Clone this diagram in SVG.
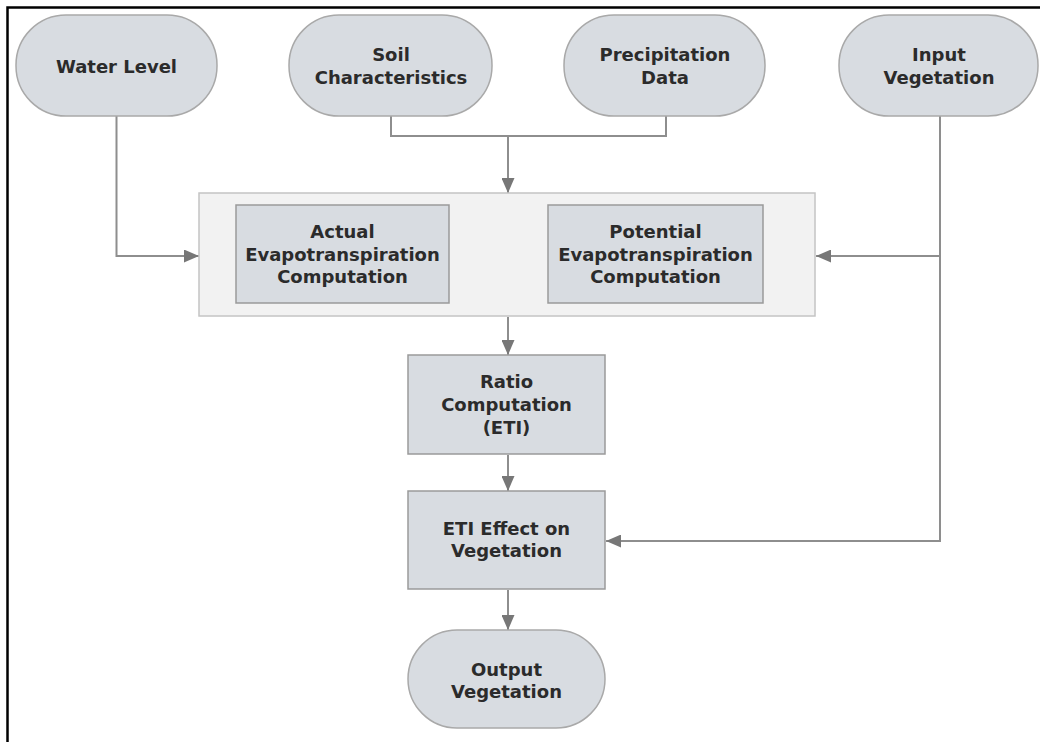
<svg xmlns="http://www.w3.org/2000/svg" width="1040" height="742" viewBox="0 0 1040 742">
  <defs>
    <marker id="arrow" viewBox="0 0 15 13" refX="15" refY="6.5" markerWidth="15" markerHeight="13" markerUnits="userSpaceOnUse" orient="auto">
      <path d="M0,0 L15,6.5 L0,13 Z" fill="#777777"/>
    </marker>
  </defs>
  <style>
    .term { fill: #d8dce1; stroke: #a9a9a9; stroke-width: 1.5; }
    .proc { fill: #d8dce1; stroke: #9a9a9a; stroke-width: 1.5; }
    .group { fill: #f2f2f2; stroke: #c4c4c4; stroke-width: 1.5; }
    .lbl { font-family: "DejaVu Sans", Verdana, sans-serif; font-weight: bold; font-size: 18px; fill: #2b2b2b; text-anchor: middle; }
    .wire { fill: none; stroke: #8e8e8e; stroke-width: 2; }
    .frame { fill: none; stroke: #000; stroke-width: 2.5; }
  </style>
  <rect width="1040" height="742" fill="#ffffff"/>
  <path class="frame" d="M7.5,742 L7.5,7.5 L1040,7.5"/>

  <g id="connectors">
    <path class="wire" d="M116.5,116 L116.5,256 L199,256" marker-end="url(#arrow)"/>
    <path class="wire" d="M391,116 L391,136 L666,136 L666,116"/>
    <path class="wire" d="M508,136 L508,193" marker-end="url(#arrow)"/>
    <path class="wire" d="M940,116 L940,541 L606,541" marker-end="url(#arrow)"/>
    <path class="wire" d="M940,256 L816,256" marker-end="url(#arrow)"/>
    <path class="wire" d="M508,317 L508,355" marker-end="url(#arrow)"/>
    <path class="wire" d="M508,455 L508,491" marker-end="url(#arrow)"/>
    <path class="wire" d="M508,590 L508,630" marker-end="url(#arrow)"/>
  </g>

  <g id="water-level">
    <rect class="term" x="16" y="15" width="201" height="101" rx="50" ry="50"/>
    <text class="lbl" x="116.5" y="73">Water Level</text>
  </g>
  <g id="soil-characteristics">
    <rect class="term" x="289" y="15" width="203" height="101" rx="50" ry="50"/>
    <text class="lbl" x="391" y="61">Soil</text>
    <text class="lbl" x="391" y="84">Characteristics</text>
  </g>
  <g id="precipitation-data">
    <rect class="term" x="564" y="15" width="201" height="101" rx="50" ry="50"/>
    <text class="lbl" x="665" y="61">Precipitation</text>
    <text class="lbl" x="665" y="84">Data</text>
  </g>
  <g id="input-vegetation">
    <rect class="term" x="839" y="15" width="199" height="101" rx="50" ry="50"/>
    <text class="lbl" x="939" y="61">Input</text>
    <text class="lbl" x="939" y="84">Vegetation</text>
  </g>

  <g id="evapotranspiration-group">
    <rect class="group" x="199" y="193" width="616" height="123"/>
  </g>
  <g id="actual-et">
    <rect class="proc" x="236" y="205" width="213" height="98"/>
    <text class="lbl" x="342.5" y="238">Actual</text>
    <text class="lbl" x="342.5" y="261">Evapotranspiration</text>
    <text class="lbl" x="342.5" y="283">Computation</text>
  </g>
  <g id="potential-et">
    <rect class="proc" x="548" y="205" width="215" height="98"/>
    <text class="lbl" x="655.5" y="238">Potential</text>
    <text class="lbl" x="655.5" y="261">Evapotranspiration</text>
    <text class="lbl" x="655.5" y="283">Computation</text>
  </g>
  <g id="ratio-computation">
    <rect class="proc" x="408" y="355" width="197" height="99"/>
    <text class="lbl" x="506.5" y="388">Ratio</text>
    <text class="lbl" x="506.5" y="411">Computation</text>
    <text class="lbl" x="506.5" y="434">(ETI)</text>
  </g>
  <g id="eti-effect">
    <rect class="proc" x="408" y="491" width="197" height="98"/>
    <text class="lbl" x="506.5" y="535">ETI Effect on</text>
    <text class="lbl" x="506.5" y="557">Vegetation</text>
  </g>
  <g id="output-vegetation">
    <rect class="term" x="408" y="630" width="197" height="98" rx="49" ry="49"/>
    <text class="lbl" x="506.5" y="676">Output</text>
    <text class="lbl" x="506.5" y="698">Vegetation</text>
  </g>
</svg>
